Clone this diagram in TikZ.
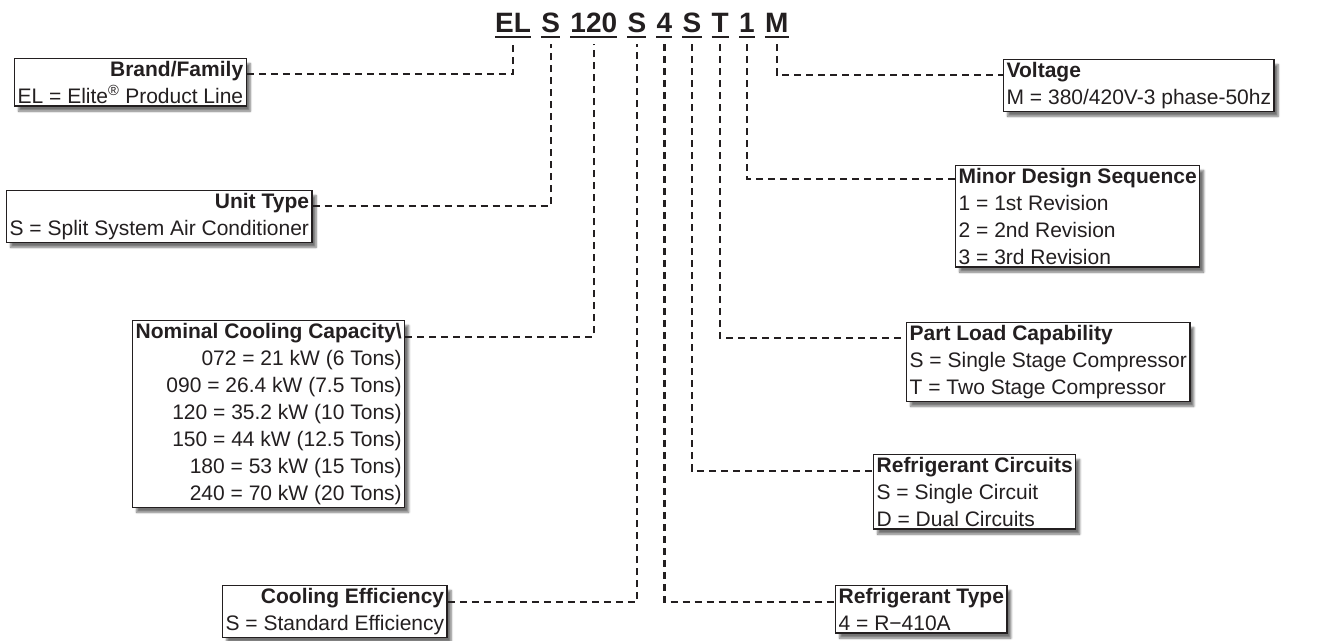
\documentclass[tikz,border=0pt]{standalone}
\usepackage{fontspec}
\setmainfont{Liberation Sans}
\usetikzlibrary{positioning,shadows.blur}
\definecolor{ink}{HTML}{231F20}

\begin{document}
\begin{tikzpicture}[x=1pt,y=-1pt,
  code/.style={font=\fontsize{28}{30}\selectfont\bfseries,text=ink,inner xsep=0pt,inner ysep=5pt},
  keybox/.style={draw=ink,line width=1.3pt,fill=white,anchor=north west,inner xsep=3pt,inner ysep=2.5pt,
    font=\fontsize{21}{27}\selectfont,text=ink,
    blur shadow={shadow xshift=4pt,shadow yshift=-5pt,shadow blur steps=6,shadow opacity=55}},
  link/.style={draw=ink,line width=2.2pt,dash pattern=on 7pt off 5pt}]
\useasboundingbox (0,0) rectangle (1332,640);

\node[code,anchor=base west] (cEL) at (495,32) {EL};
\node[code,base right=10pt of cEL] (cS) {S};
\node[code,base right=10pt of cS] (cCap) {120};
\node[code,base right=10pt of cCap] (cEff) {S};
\node[code,base right=10pt of cEff] (cRef) {4};
\node[code,base right=10pt of cRef] (cCir) {S};
\node[code,base right=10pt of cCir] (cLoad) {T};
\node[code,base right=10pt of cLoad] (cRev) {1};
\node[code,base right=10pt of cRev] (cV) {M};
\foreach \c in {cEL,cS,cCap,cEff,cRef,cCir,cLoad,cRev,cV}
  \draw[ink,line width=2pt] (\c.south west) -- (\c.south east);

\node[keybox,align=right] (brand) at (14,58) {\textbf{Brand/Family}\\EL = Elite\textsuperscript{®} Product Line};
\node[keybox,align=right] (unit) at (6,190) {\textbf{Unit Type}\\S = Split System Air Conditioner};
\node[keybox,align=right] (cap) at (132,320) {\textbf{Nominal Cooling Capacity\textbackslash}\\072 = 21 kW (6 Tons)\\090 = 26.4 kW (7.5 Tons)\\120 = 35.2 kW (10 Tons)\\150 = 44 kW (12.5 Tons)\\180 = 53 kW (15 Tons)\\240 = 70 kW (20 Tons)};
\node[keybox,align=right] (eff) at (222,585) {\textbf{Cooling Efficiency}\\S = Standard Efficiency};

\node[keybox,align=left] (volt) at (1003,59) {\textbf{Voltage}\\M = 380/420V-3 phase-50hz};
\node[keybox,align=left] (rev) at (955,165) {\textbf{Minor Design Sequence}\\1 = 1st Revision\\2 = 2nd Revision\\3 = 3rd Revision};
\node[keybox,align=left] (load) at (906,322) {\textbf{Part Load Capability}\\S = Single Stage Compressor\\T = Two Stage Compressor};
\node[keybox,align=left] (circ) at (873,454) {\textbf{Refrigerant Circuits}\\S = Single Circuit\\D = Dual Circuits};
\node[keybox,align=left] (ref) at (835,585) {\textbf{Refrigerant Type}\\4 = R−410A};

\draw[link] ([yshift=-16pt]brand.north east) -| ([yshift=-7pt]cEL.south);
\draw[link] ([yshift=-16pt]unit.north east) -| ([yshift=-7pt]cS.south);
\draw[link] ([yshift=-17pt]cap.north east) -| ([yshift=-7pt]cCap.south);
\draw[link] ([yshift=-17pt]eff.north east) -| ([yshift=-7pt]cEff.south);
\draw[link] ([yshift=-7pt]cRef.south) |- ([yshift=-17pt]ref.north west);
\draw[link] ([yshift=-7pt]cCir.south) |- ([yshift=-17pt]circ.north west);
\draw[link] ([yshift=-7pt]cLoad.south) |- ([yshift=-16pt]load.north west);
\draw[link] ([yshift=-7pt]cRev.south) |- ([yshift=-14pt]rev.north west);
\draw[link] ([yshift=-7pt]cV.south) |- ([yshift=-16pt]volt.north west);
\end{tikzpicture}
\end{document}
